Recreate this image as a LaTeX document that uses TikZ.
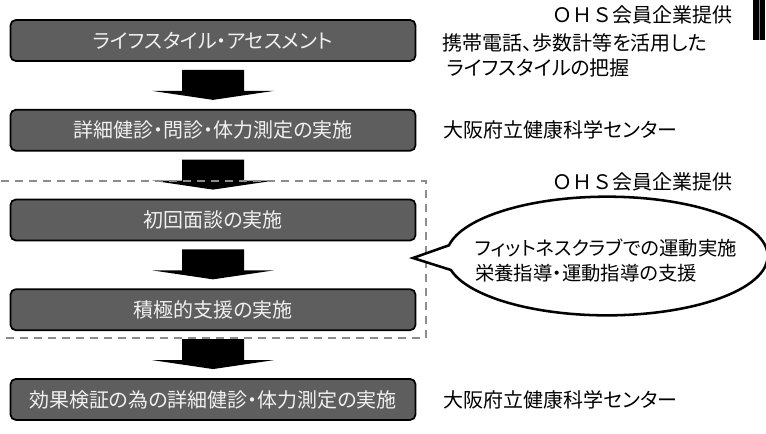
\documentclass[tikz,border=0pt]{standalone}
\usepackage{fontspec}
\setmainfont{Noto Sans CJK JP}[RawFeature={+palt}]
\newfontfamily\ohsfont{Noto Sans CJK JP}
\usetikzlibrary{positioning}
\usetikzlibrary{calc}
\usetikzlibrary{shapes.callouts}
\definecolor{boxgray}{HTML}{5E5E5E}
\definecolor{framegray}{HTML}{8C8C8C}

\begin{document}
\begin{tikzpicture}[x=0.75pt,y=-0.75pt,
    font=\fontsize{15pt}{18.75pt}\selectfont,
    node distance=35.25pt,
    stepbox/.style={draw, line width=1.3pt, rounded corners=4pt, fill=boxgray,
      text=white!94!black, minimum width=303.75pt, minimum height=30.75pt, inner sep=0pt},
    note/.style={align=left, inner sep=0pt},
    ohs/.style={anchor=east, inner sep=0pt, font=\ohsfont\fontsize{15pt}{18.75pt}\selectfont},
    frame/.style={draw=framegray, line width=1.1pt, dash pattern=on 6pt off 4.5pt}]
  \useasboundingbox (0,0) rectangle (766,433);

  % flow of steps
  \node[stepbox] (b1) at (213,40.5) {ライフスタイル・アセスメント};
  \node[stepbox, below=of b1] (b2) {詳細健診・問診・体力測定の実施};
  \node[stepbox, below=of b2] (b3) {初回面談の実施};
  \node[stepbox, below=of b3] (b4) {積極的支援の実施};
  \node[stepbox, below=of b4] (b5) {効果検証の為の詳細健診・体力測定の実施};

  \foreach \a/\b in {b1/b2,b2/b3,b3/b4,b4/b5}
    \fill ($(\a.south)+(-31,8)$) -- ++(62,0) -- ++(0,21) -- ++(30,0)
      -- ($(\b.north)+(0,-9)$) -- ($(\a.south)+(-61,29)$) -- ++(30,0) -- cycle;

  \draw[frame] (-5,181) rectangle (426,338);

  % who provides what
  \node[ohs] (ohs1) at (733,15) {ＯＨＳ会員企業提供};
  \node[note, anchor=west] (life) at (442,55.5)
    {携帯電話、歩数計等を活用した\\\hspace*{3.75pt}ライフスタイルの把握};
  \node[note, right=20pt of b2] (osaka1) {大阪府立健康科学センター};
  \node[ohs] (ohs2) at (733,182) {ＯＨＳ会員企業提供};
  \node[note, right=20pt of b5] (osaka2) {大阪府立健康科学センター};

  \coordinate (tip) at (413,258);
  \node[ellipse callout, draw, line width=1.9pt, fill=white, minimum width=241pt,
    minimum height=89pt, callout absolute pointer={(tip)}, callout pointer arc=24]
    (talk) at (607,256) {};
  \node[note, anchor=west, font=\fontsize{14.5pt}{18.75pt}\selectfont] (talktext)
    at (475,260.5) {フィットネスクラブでの運動実施\\栄養指導・運動指導の支援};

  \fill (753,0) rectangle (765,40);
  \draw[gray, line width=0.8pt] (759.5,0) -- (759.5,40);
\end{tikzpicture}
\end{document}
